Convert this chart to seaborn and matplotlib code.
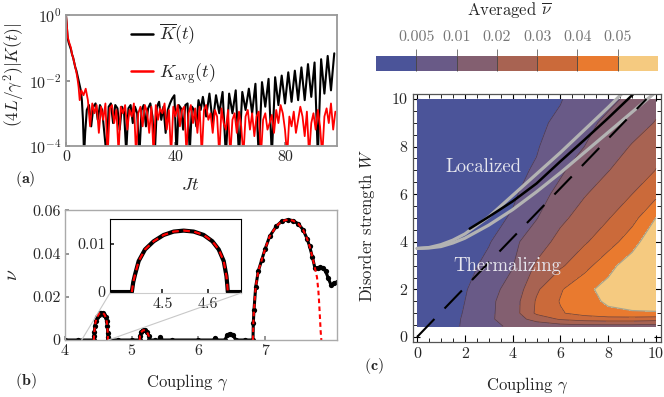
import numpy as np
import matplotlib
matplotlib.use("Agg")
import matplotlib.pyplot as plt
from matplotlib.patches import ConnectionPatch
from matplotlib.lines import Line2D
import matplotlib.ticker as mtick
import seaborn as sns

# ---------------- panel (a): |K(t)| (log10 values) ----------------
t_decay = [0.0, 0.3, 0.6, 1.0, 1.4, 1.8, 2.2, 2.6, 3.0, 3.4, 3.8, 4.2, 4.6, 5.0, 5.4, 5.8, 6.2, 6.6, 7.0]
logK_black_decay = [0.0, -0.35, -0.7, -0.85, -0.95, -1.05, -1.2, -1.3, -1.45, -1.6, -1.7, -1.85,
                    -2.0, -2.15, -2.3, -2.6, -3.2, -4.3, -3.6]
# noisy floor, t = 7.6, 8.4, ... (step 0.8)
logK_black_floor = [-2.9, -2.75, -3.4, -2.8, -2.7, -3.2, -2.75, -2.9, -3.6, -4.3,
                    -2.8, -2.7, -3.3, -2.75, -2.85, -3.5, -2.8, -2.95, -4.2, -2.85,
                    -2.75, -3.3, -2.8, -3.0, -4.3, -2.9, -2.75, -3.4, -2.85, -2.7,
                    -3.1, -4.3, -2.8, -2.65, -3.2, -2.8, -3.6, -2.9, -2.7, -2.55,
                    -2.45, -4.3, -2.75, -2.85, -3.5, -2.75, -2.7, -4.2, -2.8, -2.9,
                    -3.4, -2.6, -2.9]
# revival oscillations, t = 50.0, 51.2, ... (peaks and troughs)
logK_black_osc = [-2.5, -3.1, -2.4, -3.3, -2.45, -3.0, -2.35, -4.3, -2.4, -3.0,
                  -2.3, -4.3, -2.35, -2.9, -2.25, -3.0, -2.1, -4.3, -2.05, -2.8,
                  -1.95, -4.3, -1.9, -2.75, -1.85, -2.7, -1.75, -2.65, -1.7, -2.6,
                  -1.6, -2.6, -1.5, -2.5, -1.45, -4.3, -1.35, -2.4, -1.25, -2.3, -1.17]

t_red_decay = [0.0, 0.3, 0.6, 1.0, 1.4, 1.8, 2.2, 2.6, 3.0, 3.4, 3.8, 4.2, 4.6, 5.0]
logK_red_decay = [0.0, -0.3, -0.65, -0.8, -0.9, -1.0, -1.2, -1.3, -1.45, -1.6, -1.75, -1.95, -2.2, -2.6]
# t = 5.6, 6.4, ... (step 0.8)
logK_red_floor = [-2.3, -2.45, -2.25, -2.6, -3.4, -2.7, -3.0, -2.75, -3.6, -2.8,
                  -3.2, -2.7, -4.3, -2.85, -2.75, -3.3, -2.9, -4.2, -2.8, -3.0,
                  -2.75, -3.5, -2.9, -3.1, -2.7, -4.3, -3.0, -2.8, -3.4, -2.75,
                  -2.95, -3.6, -2.8, -4.3, -2.75, -3.2, -2.85, -3.0, -2.7, -3.5,
                  -2.9, -4.3, -2.8, -3.1, -2.75, -3.4, -2.9, -2.8, -4.2, -3.0,
                  -2.75, -3.3, -2.85, -3.6, -2.8, -4.3, -2.9, -2.75, -3.2, -3.0,
                  -3.6, -2.9, -3.1, -4.3, -2.85, -3.3, -3.5, -2.9, -4.3, -3.2,
                  -3.0, -3.6, -2.95, -3.4, -4.3, -3.1, -2.9, -3.5, -3.0, -3.7,
                  -3.1, -2.95, -4.3, -3.2, -3.0, -3.5, -3.3, -3.05, -3.6, -2.9,
                  -3.3, -2.75, -3.0, -3.5, -4.3, -3.1, -3.4, -2.95, -3.6, -3.2,
                  -2.8, -3.1, -3.7, -2.95, -4.3, -3.3, -3.0, -3.5, -2.9, -3.4,
                  -4.3, -3.1, -2.85, -3.3, -2.7, -3.5, -2.95]

# ---------------- panel (b): nu vs coupling ----------------
base_gamma = [4.00, 4.20]
base_nu = [0.0, 0.0]
bump1_gamma = [4.433, 4.436, 4.440, 4.448, 4.462, 4.481, 4.503, 4.525, 4.547,
               4.569, 4.591, 4.610, 4.624, 4.635, 4.641, 4.643, 4.644]
bump1_nu = [0.0, 0.0020, 0.0036, 0.0064, 0.0088, 0.0105, 0.0118, 0.0125, 0.0127,
            0.0125, 0.0118, 0.0105, 0.0088, 0.0064, 0.0033, 0.0013, 0.0]
gap1_gamma = [4.80, 5.00]
gap1_nu = [0.0, 0.0]
bump2_gamma = [5.120, 5.125, 5.140, 5.170, 5.200, 5.230, 5.255, 5.265]
bump2_nu = [0.0, 0.0020, 0.0035, 0.0045, 0.0045, 0.0037, 0.0020, 0.0]
gap2_gamma = [5.35, 5.42, 5.43, 5.44, 5.60, 6.00, 6.24, 6.25, 6.26, 6.40, 6.43, 6.47, 6.52, 6.56, 6.70]
gap2_nu = [0.0, 0.0, 0.0012, 0.0, 0.0, 0.0, 0.0, 0.0010, 0.0, 0.0, 0.0022, 0.0030, 0.0025, 0.0, 0.0]
bump3_gamma = [6.820, 6.825, 6.835, 6.86, 6.90, 6.95, 7.00, 7.07, 7.17, 7.25, 7.34,
               7.42, 7.50, 7.57, 7.63, 7.67, 7.71, 7.75]
bump3_nu = [0.0, 0.0080, 0.0140, 0.0245, 0.0320, 0.0370, 0.0420, 0.0480, 0.0527, 0.0550, 0.0557,
            0.0553, 0.0538, 0.0511, 0.0470, 0.0433, 0.0385, 0.0332]
tail_black_gamma = [7.79, 7.83, 7.87, 7.91, 7.95, 7.99, 8.03, 8.08]
tail_black_nu = [0.0335, 0.0337, 0.0333, 0.0318, 0.0285, 0.0255, 0.0262, 0.0268]
tail_fit_gamma = [7.78, 7.80, 7.81, 7.825, 7.835, 7.845]
tail_fit_nu = [0.0290, 0.0230, 0.0183, 0.010, 0.004, 0.0]

# ---------------- panel (c): averaged nu on (gamma, W) grid ----------------
gamma_grid = [0, 1, 2, 3, 4, 5, 6, 7, 8, 9, 10]
W_grid = [0.45, 0.75, 1.0, 1.5, 2, 3, 4, 5, 6, 7, 8, 9, 10]
nu_grid = [
    [0, 0.0028, 0.0056, 0.0085, 0.0110, 0.0130, 0.0150, 0.0160, 0.0160, 0.0160, 0.0150],
    [0, 0.0027, 0.0055, 0.0085, 0.0145, 0.0240, 0.0310, 0.0340, 0.0350, 0.0350, 0.0340],
    [0, 0.0026, 0.0053, 0.0082, 0.0150, 0.0317, 0.0390, 0.0440, 0.0480, 0.0490, 0.0492],
    [0, 0.0025, 0.0050, 0.0079, 0.0150, 0.0310, 0.0406, 0.0465, 0.0515, 0.0535, 0.0545],
    [0, 0.0023, 0.0047, 0.0075, 0.0127, 0.0286, 0.0390, 0.0478, 0.0530, 0.0570, 0.0590],
    [0, 0.0019, 0.0037, 0.0061, 0.0096, 0.0214, 0.0286, 0.0362, 0.0471, 0.0550, 0.0600],
    [0, 0.0016, 0.0031, 0.0047, 0.0079, 0.0150, 0.0233, 0.0289, 0.0353, 0.0460, 0.0580],
    [0, 0.0013, 0.0026, 0.0038, 0.0054, 0.0096, 0.0178, 0.0241, 0.0295, 0.0364, 0.0502],
    [0, 0.0011, 0.0022, 0.0033, 0.0044, 0.0071, 0.0121, 0.0193, 0.0247, 0.0300, 0.0375],
    [0, 0.0010, 0.0020, 0.0031, 0.0041, 0.0054, 0.0089, 0.0140, 0.0197, 0.0249, 0.0302],
    [0, 0.0009, 0.0019, 0.0028, 0.0038, 0.0047, 0.0071, 0.0100, 0.0153, 0.0207, 0.0279],
    [0, 0.0009, 0.0018, 0.0026, 0.0035, 0.0044, 0.0056, 0.0082, 0.0114, 0.0159, 0.0205],
    [0, 0.0008, 0.0016, 0.0025, 0.0033, 0.0041, 0.0048, 0.0068, 0.0085, 0.0115, 0.0170],
]
nu_levels = [0, 0.005, 0.01, 0.02, 0.03, 0.04, 0.05, 0.07]
cbar_ticks = [0.005, 0.01, 0.02, 0.03, 0.04, 0.05]
cbar_labels = ["0.005", "0.01", "0.02", "0.03", "0.04", "0.05"]
band_colors = ["#4b5499", "#695a87", "#835f70", "#a86352", "#cb6a3a", "#e97a2f", "#f5ca80"]

upper_gamma = [0, 0.5, 1, 1.5, 2, 3, 4, 5, 6, 7, 8, 8.7]
upper_W = [3.72, 3.76, 3.88, 4.07, 4.33, 5.05, 5.95, 6.85, 7.75, 8.7, 9.65, 10.35]
lower_gamma = [0, 0.5, 1, 1.5, 2, 3, 4, 5, 6, 7, 8, 9, 10]
lower_W = [3.72, 3.74, 3.80, 3.95, 4.15, 4.70, 5.35, 6.10, 6.90, 7.75, 8.60, 9.45, 10.3]
mid_gamma = [2.2, 3, 4, 5, 6, 7, 8, 9.2]
mid_W = [4.55, 5.05, 5.7, 6.45, 7.38, 8.28, 9.2, 10.35]
dash_gamma = [0, 9.6]
dash_W = [0, 10.0]

# ---------------- style ----------------
sns.set_theme(style="ticks")
plt.rcParams.update({
    "font.family": "serif",
    "font.serif": ["cmr10"],
    "mathtext.fontset": "cm",
    "axes.unicode_minus": False,
    "axes.formatter.use_mathtext": True,
})

W_PX, H_PX = 664, 397
fig = plt.figure(figsize=(W_PX / 100, H_PX / 100), dpi=100)
TICK_FS = 11.5
LABEL_FS = 12


def rect(l, t, r, b):
    return [l / W_PX, 1 - b / H_PX, (r - l) / W_PX, (b - t) / H_PX]


def frame(ax, color, lw):
    for s in ax.spines.values():
        s.set_color(color)
        s.set_linewidth(lw)


# ---- (a) ----
ax_a = fig.add_axes(rect(66, 15, 337, 146))
t_black = np.concatenate([t_decay,
                          7.6 + 0.8 * np.arange(len(logK_black_floor)),
                          50.0 + 1.2 * np.arange(len(logK_black_osc))])
K_black = 10.0 ** np.concatenate([logK_black_decay, logK_black_floor, logK_black_osc])
t_red = np.concatenate([t_red_decay, 5.6 + 0.8 * np.arange(len(logK_red_floor))])
K_red = 10.0 ** np.concatenate([logK_red_decay, logK_red_floor])

sns.lineplot(x=t_black, y=K_black, ax=ax_a, color="black", lw=1.5, sort=False, estimator=None)
sns.lineplot(x=t_red, y=K_red, ax=ax_a, color="#ff0000", lw=1.3, sort=False, estimator=None)
ax_a.set_yscale("log")
ax_a.set_xlim(0, 99)
ax_a.set_ylim(1e-4, 1)
ax_a.set_xticks([0, 40, 80], labels=["0", "40", "80"])
ax_a.set_yticks([1e-4, 1e-2, 1], labels=[r"$10^{-4}$", r"$10^{-2}$", r"$10^{0}$"])
ax_a.yaxis.set_minor_locator(mtick.NullLocator())
ax_a.tick_params(direction="in", length=3, color="#888888", labelsize=TICK_FS, pad=3)
frame(ax_a, "#999999", 1.3)
ax_a.set_xlabel(r"$Jt$", fontsize=13)
ax_a.xaxis.set_label_coords((190 - 66) / 271, (146 - 185) / 131)
ax_a.xaxis.label.set_va("center")
ax_a.set_ylabel(r"$(4L/\gamma^2)|K(t)|$", fontsize=12.5)
ax_a.yaxis.set_label_coords((14 - 66) / 271, (146 - 75) / 131)
ax_a.yaxis.label.set_va("center")
handles = [Line2D([], [], color="black", lw=1.8), Line2D([], [], color="#ff0000", lw=1.8)]
ax_a.legend(handles, [r"$\overline{K}(t)$", r"$K_{\rm avg}(t)$"], loc="upper left",
            bbox_to_anchor=(131 / W_PX, 1 - 22 / H_PX), bbox_transform=fig.transFigure,
            frameon=False, fontsize=13, handlelength=1.2, handletextpad=0.35,
            labelspacing=0.75, borderpad=0, borderaxespad=0)

# ---- (b) ----
ax_b = fig.add_axes(rect(65, 210, 337, 340))
gamma_black = np.concatenate([base_gamma, bump1_gamma, gap1_gamma, bump2_gamma,
                              gap2_gamma, bump3_gamma, tail_black_gamma])
nu_black = np.concatenate([base_nu, bump1_nu, gap1_nu, bump2_nu, gap2_nu, bump3_nu, tail_black_nu])
fit_dash = (0, (2.2, 1.6))
sns.lineplot(x=gamma_black, y=nu_black, ax=ax_b, color="black", lw=2.2, marker="o",
             markersize=3.8, markeredgewidth=0, sort=False, estimator=None)
for g, n in [(bump1_gamma, bump1_nu), (bump2_gamma, bump2_nu),
             (bump3_gamma + tail_fit_gamma, bump3_nu + tail_fit_nu)]:
    sns.lineplot(x=g, y=n, ax=ax_b, color="#ff0000", lw=1.5, linestyle=fit_dash,
                 sort=False, estimator=None)
ax_b.set_xlim(4, 8.08)
ax_b.set_ylim(0, 0.0602)
ax_b.set_xticks([4, 5, 6, 7], labels=["4", "5", "6", "7"])
ax_b.set_yticks([0, 0.02, 0.04, 0.06], labels=["0", "0.02", "0.04", "0.06"])
ax_b.tick_params(direction="in", length=3, color="#888888", labelsize=TICK_FS, pad=3)
frame(ax_b, "#aaaaaa", 1.0)
ax_b.set_xlabel(r"Coupling $\gamma$", fontsize=LABEL_FS)
ax_b.xaxis.set_label_coords((187 - 65) / 272, (340 - 383) / 130)
ax_b.xaxis.label.set_va("center")
ax_b.set_ylabel(r"$\nu$", fontsize=14)
ax_b.yaxis.set_label_coords((12 - 65) / 272, (340 - 275) / 130)
ax_b.yaxis.label.set_va("center")

# inset
ax_in = fig.add_axes(rect(110, 219, 241, 293))
sns.lineplot(x=gamma_black, y=nu_black, ax=ax_in, color="black", lw=3.0, sort=False, estimator=None)
sns.lineplot(x=bump1_gamma, y=bump1_nu, ax=ax_in, color="#ff0000", lw=1.6,
             linestyle=(0, (3, 2)), sort=False, estimator=None)
ax_in.set_xlim(4.385, 4.673)
ax_in.set_ylim(-0.0002, 0.0151)
ax_in.set_xticks([4.5, 4.6], labels=["4.5", "4.6"])
ax_in.set_yticks([0, 0.01], labels=["0", "0.01"])
ax_in.tick_params(direction="in", length=3, labelsize=TICK_FS, pad=3)
frame(ax_in, "black", 0.8)
ax_in.spines["bottom"].set_color("#cccccc")
ax_in.set_xlabel("")
ax_in.set_ylabel("")
for xa, xb in [(0, 4.25), (1, 4.65)]:
    con = ConnectionPatch(xyA=(xa, 0), coordsA=ax_in.transAxes, xyB=(xb, 0),
                          coordsB=ax_b.transData, color="#c8c8c8", lw=0.8)
    fig.add_artist(con)

# ---- (c) ----
ax_c = fig.add_axes(rect(413, 94, 661, 342))
cf = ax_c.contourf(gamma_grid, W_grid, nu_grid, levels=nu_levels, colors=band_colors)
ax_c.contour(gamma_grid, W_grid, nu_grid, levels=nu_levels[1:6], colors="#3b2f45",
             linewidths=0.5, alpha=0.75)
ax_c.contour(gamma_grid, W_grid, nu_grid, levels=[0.05], colors="#a9a48c", linewidths=0.9)
sns.lineplot(x=upper_gamma, y=upper_W, ax=ax_c, color="#b3b3b3", lw=2.3, sort=False, estimator=None)
sns.lineplot(x=lower_gamma, y=lower_W, ax=ax_c, color="#b3b3b3", lw=2.3, sort=False, estimator=None)
sns.lineplot(x=mid_gamma, y=mid_W, ax=ax_c, color="black", lw=1.8, sort=False, estimator=None)
sns.lineplot(x=dash_gamma, y=dash_W, ax=ax_c, color="black", lw=1.5,
             linestyle=(0, (12, 7)), sort=False, estimator=None)
ax_c.text(2.8, 7.13, "Localized", color="#e6e6ee", fontsize=13.5, ha="center", va="center")
ax_c.text(3.77, 2.98, "Thermalizing", color="#e6e6ee", fontsize=13.5, ha="center", va="center")
ax_c.set_xlim(-0.17, 10.21)
ax_c.set_ylim(-0.21, 10.21)
ax_c.set_xticks([0, 2, 4, 6, 8, 10], labels=["0", "2", "4", "6", "8", "10"])
ax_c.set_yticks([0, 2, 4, 6, 8, 10], labels=["0", "2", "4", "6", "8", "10"])
ax_c.xaxis.set_minor_locator(mtick.MultipleLocator(0.5))
ax_c.yaxis.set_minor_locator(mtick.MultipleLocator(0.5))
ax_c.tick_params(which="both", direction="in", top=True, right=True, color="black",
                 labelsize=TICK_FS, pad=4)
ax_c.tick_params(which="major", length=5, width=0.8)
ax_c.tick_params(which="minor", length=3, width=0.6)
frame(ax_c, "#555555", 0.9)
ax_c.set_xlabel(r"Coupling $\gamma$", fontsize=LABEL_FS)
ax_c.xaxis.set_label_coords((527 - 413) / 248, (342 - 386) / 248)
ax_c.xaxis.label.set_va("center")
ax_c.set_ylabel(r"Disorder strength $W$", fontsize=LABEL_FS)
ax_c.yaxis.set_label_coords((367 - 413) / 248, (342 - 226) / 248)
ax_c.yaxis.label.set_va("center")

# colorbar
cax = fig.add_axes(rect(376, 56, 658, 71))
cb = fig.colorbar(cf, cax=cax, orientation="horizontal", ticks=cbar_ticks,
                  spacing="uniform", drawedges=True)
cax.xaxis.set_ticks_position("top")
cax.set_xticklabels(cbar_labels)
cax.tick_params(direction="out", length=5, width=0.7, color="#777777",
                labelcolor="#777777", labelsize=TICK_FS, pad=4)
cb.outline.set_visible(False)
cb.dividers.set_color("#444444")
cb.dividers.set_linewidth(0.6)
fig.text(509 / W_PX, 1 - 10 / H_PX, r"Averaged $\overline{\nu}$", ha="center", va="center",
         fontsize=LABEL_FS)

# panel letters
fig.text(25 / W_PX, 1 - 179 / H_PX, r"$\mathbf{(a)}$", ha="center", va="center", fontsize=11.5)
fig.text(26 / W_PX, 1 - 381 / H_PX, r"$\mathbf{(b)}$", ha="center", va="center", fontsize=11.5)
fig.text(374 / W_PX, 1 - 366 / H_PX, r"$\mathbf{(c)}$", ha="center", va="center", fontsize=11.5)

fig.savefig("out.png", dpi=100)
